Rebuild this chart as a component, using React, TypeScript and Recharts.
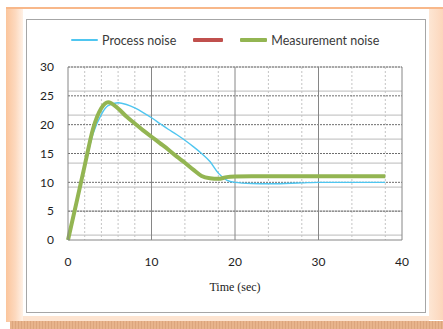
import {
  CartesianGrid,
  Legend,
  Line,
  LineChart,
  XAxis,
  YAxis,
} from 'recharts';

// sample times (sec) and the two filter responses
const time = [0, 1, 2, 3, 4, 4.8, 6, 7, 8, 9, 10, 11, 12, 13, 14, 15, 16, 17, 18, 19, 20, 22, 24, 26, 28, 30, 32, 34, 36, 38];
const processNoise = [0, 6.3, 12.6, 18.4, 21.8, 23.3, 23.8, 23.5, 22.9, 22.1, 21.2, 20.2, 19.2, 18.3, 17.3, 16.2, 15.0, 13.6, 11.6, 10.4, 10.0, 9.8, 9.75, 9.8, 9.9, 10.0, 10.0, 10.0, 10.0, 10.0];
const measurementNoise = [0, 6.4, 12.9, 19.3, 22.9, 23.9, 22.8, 21.4, 20.2, 19.0, 17.9, 16.8, 15.7, 14.5, 13.4, 12.2, 11.1, 10.7, 10.6, 10.9, 11.0, 11.05, 11.05, 11.05, 11.05, 11.05, 11.05, 11.05, 11.05, 11.05];

const xTicks = [0, 10, 20, 30, 40];
const yTicks = [0, 5, 10, 15, 20, 25, 30];
const xMinor = [2, 4, 6, 8, 12, 14, 16, 18, 22, 24, 26, 28, 32, 34, 36, 38];
const yMinor = Array.from({ length: 37 }, (_, i) => (i * 5) / 6);

// legend order follows the series order
const seriesOrder = ['process', 'other', 'measurement'];

const data = time.map((t, i) => ({
  t,
  process: processNoise[i],
  measurement: measurementNoise[i],
  other: null,
}));

const sans = 'Lato, "Liberation Sans", sans-serif';

const LegendContent = ({ payload }: any) => {
  const items = [...(payload || [])].sort(
    (a: any, b: any) => seriesOrder.indexOf(a.dataKey) - seriesOrder.indexOf(b.dataKey),
  );
  return (
    <div style={{ display: 'flex', alignItems: 'center', height: 20, paddingLeft: 45, fontFamily: sans, fontSize: 12.5, color: '#3a3a3a' }}>
      {items.map((p: any) => (
        <div key={p.dataKey} style={{ display: 'flex', alignItems: 'center', marginRight: 17 }}>
          <div style={{ width: p.dataKey === 'other' ? 30 : 27, height: p.dataKey === 'process' ? 2 : 4, background: p.color, borderRadius: 1 }} />
          {p.value ? <span style={{ marginLeft: 4 }}>{p.value}</span> : null}
        </div>
      ))}
    </div>
  );
};

export default function App() {
  return (
    <div style={{ position: 'relative', width: 443, height: 329, background: '#fff', overflow: 'hidden' }}>
      <style>{'body { margin: 0; }'}</style>
      {/* page frame */}
      <div style={{ position: 'absolute', left: 6, top: 7, right: 0, height: 2, background: '#f8b88a' }} />
      <div style={{ position: 'absolute', left: 6, top: 9, width: 17, height: 313, background: 'linear-gradient(to right, #fbc59c, #fdd9be 55%, #fff1e6)' }} />
      <div style={{ position: 'absolute', left: 429, top: 9, width: 14, height: 311, background: 'linear-gradient(to right, #fde6d4, #fcd6bb)' }} />
      <div style={{ position: 'absolute', left: 23, top: 316, width: 406, height: 5, background: '#fde4d1' }} />
      <div
        style={{
          position: 'absolute', left: 10, top: 321, right: 0, height: 8,
          background: 'repeating-linear-gradient(90deg, #e8b48c 0 2px, #dca57d 2px 3px)',
        }}
      />
      <div style={{ position: 'absolute', left: 26, top: 19, width: 400, height: 294, border: '1px solid #a6a6a6', boxSizing: 'border-box', background: '#fff' }} />

      <div style={{ position: 'absolute', left: 26, top: 19 }}>
        <LineChart width={399} height={293} data={data} margin={{ top: 28, right: 23, bottom: 42, left: 0 }}>
          <CartesianGrid horizontalValues={yMinor} vertical={false} stroke="#c8c8c8" strokeWidth={1.2} />
          <CartesianGrid verticalValues={xMinor} horizontal={false} stroke="#c4c4c4" strokeDasharray="2 2" />
          <CartesianGrid horizontalValues={yTicks.slice(1)} vertical={false} stroke="#6e6e6e" strokeDasharray="2 1" />
          <CartesianGrid verticalValues={[10, 20, 30, 40]} horizontal={false} stroke="#868686" />
          <XAxis
            dataKey="t"
            type="number"
            domain={[0, 40]}
            ticks={xTicks}
            tickSize={0}
            tickMargin={17.5}
            height={30}
            axisLine={{ stroke: '#868686' }}
            tick={{ fontFamily: sans, fontSize: 12, fill: '#1e1e1e' }}
            label={{ value: 'Time (sec)', position: 'bottom', offset: 12, style: { fontFamily: '"Liberation Serif", serif', fontSize: 12, fill: '#222' } }}
          />
          <YAxis
            type="number"
            domain={[0, 30]}
            ticks={yTicks}
            width={42}
            tickSize={0}
            tickMargin={14}
            axisLine={{ stroke: '#868686' }}
            tick={{ fontFamily: sans, fontSize: 12, fill: '#1e1e1e' }}
          />
          <Legend verticalAlign="top" content={<LegendContent />} wrapperStyle={{ top: 11, left: 0, width: 399 }} />
          <Line type="monotone" dataKey="process" name="Process noise" stroke="#4fc6f0" strokeWidth={1.4} dot={false} isAnimationActive={false} />
          <Line type="monotone" dataKey="other" name="" stroke="#c0504d" strokeWidth={3} dot={false} isAnimationActive={false} />
          <Line type="monotone" dataKey="measurement" name="Measurement noise" stroke="#93b552" strokeWidth={4} dot={false} isAnimationActive={false} />
        </LineChart>
      </div>
    </div>
  );
}
